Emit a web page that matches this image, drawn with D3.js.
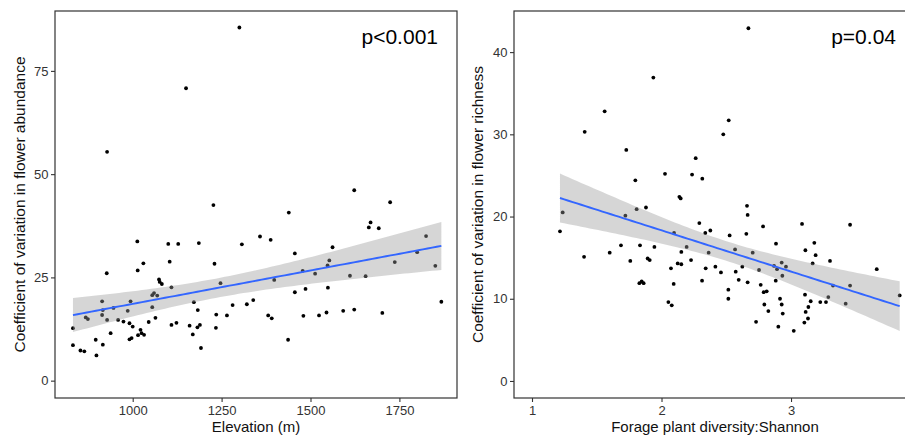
<!DOCTYPE html>
<html>
<head>
<meta charset="utf-8">
<script src="https://cdn.jsdelivr.net/npm/d3@7"></script>
<style>
  html, body { margin: 0; padding: 0; background: #fff; }
  svg { display: block; font-family: "Liberation Sans", Arial, sans-serif; }
</style>
</head>
<body>
<svg id="chart" width="905" height="437"></svg>
<script>
// ---------- Data ----------
const elevation = [832, 832, 853, 864, 868, 874, 898, 896, 914, 914,
  916, 916, 927, 928, 938, 946, 959, 974, 986, 991,
  991, 994, 997, 1000, 1013, 1014, 1015, 1022, 1025, 1030,
  1032, 1045, 1055, 1055, 1060, 1064, 1069, 1074, 1076, 1082,
  1100, 1104, 1109, 1109, 1123, 1128, 1160, 1169, 1172, 1183,
  1182, 1186, 1189, 1192, 1227, 1230, 1235, 1234, 1247, 1265,
  1281, 1307, 1321, 1339, 1358, 1381, 1388, 1391, 1398, 1437,
  1439, 1456, 1456, 1478, 1480, 1486, 1513, 1524, 1545, 1549,
  1548, 1553, 1562, 1592, 1611, 1623, 1655, 1664, 1669, 1692,
  1702, 1724, 1737, 1800, 1825, 1851, 1868, 928, 1150, 1300,
  1623];
const cvAbundance = [12.7, 8.6, 7.3, 7.1, 15.3, 14.9, 6.1, 9.9, 19.2, 15.9,
  8.7, 17.1, 26.0, 14.7, 11.5, 17.6, 14.7, 14.3, 16.9, 13.9,
  10.0, 19.2, 10.3, 13.1, 33.7, 26.7, 11.0, 12.3, 11.5, 28.4,
  11.1, 14.2, 17.8, 20.7, 21.2, 15.2, 20.6, 24.5, 23.9, 23.4,
  33.1, 28.8, 22.6, 13.5, 14.0, 33.1, 13.3, 11.2, 19.0, 17.1,
  12.9, 33.3, 13.5, 7.9, 42.5, 28.3, 16.0, 12.8, 23.6, 15.8,
  18.3, 33.0, 18.5, 19.5, 34.9, 15.8, 34.1, 15.1, 24.4, 9.9,
  40.7, 30.8, 21.4, 26.6, 15.7, 22.2, 25.9, 15.8, 16.5, 22.5,
  27.9, 29.1, 32.3, 16.9, 25.4, 17.2, 25.3, 37.1, 38.3, 36.9,
  16.4, 43.2, 28.7, 31.1, 35.0, 27.8, 19.1, 55.4, 70.8, 85.5,
  46.1];

const shannon = [2.671, 1.937, 1.561, 1.407, 2.519, 2.477, 1.728, 2.264, 2.027, 2.236,
  2.315, 1.798, 2.138, 2.148, 2.660, 1.880, 1.808, 1.237, 1.721, 2.665,
  1.216, 1.402, 1.600, 1.687, 1.759, 1.834, 1.829, 1.847, 1.862, 1.893,
  1.909, 1.945, 2.053, 2.079, 2.073, 2.097, 2.094, 2.125, 2.153, 2.153,
  2.194, 2.228, 2.292, 2.313, 2.338, 2.377, 2.341, 2.364, 2.416, 2.459,
  2.516, 2.516, 2.526, 2.568, 2.573, 2.596, 2.624, 2.655, 2.665, 2.704,
  2.730, 2.753, 2.766, 2.784, 2.794, 2.789, 2.812, 2.825, 2.884, 2.882,
  2.892, 2.869, 2.902, 2.915, 2.928, 2.933, 2.928, 2.936, 2.961, 3.021,
  3.085, 3.103, 3.108, 3.111, 3.113, 3.131, 3.134, 3.152, 3.167, 3.180,
  3.190, 3.226, 3.270, 3.288, 3.301, 3.324, 3.422, 3.456, 3.456, 3.662,
  3.839];
const cvRichness = [42.9, 36.9, 32.8, 30.3, 31.7, 30.0, 28.1, 27.1, 25.2, 25.1,
  24.6, 24.4, 22.4, 22.2, 21.3, 21.1, 20.9, 20.5, 20.1, 20.2,
  18.2, 15.1, 15.6, 16.5, 14.6, 16.5, 11.9, 12.1, 11.9, 14.9,
  14.7, 16.3, 9.6, 9.2, 13.7, 18.0, 11.8, 14.3, 14.2, 15.7,
  16.3, 14.7, 19.2, 12.2, 18.0, 18.3, 13.7, 15.6, 13.9, 13.2,
  11.1, 10.0, 17.7, 16.0, 13.3, 12.3, 13.9, 17.9, 12.0, 15.6,
  7.2, 13.5, 11.7, 18.8, 9.3, 10.8, 10.9, 8.5, 16.7, 12.2,
  13.6, 14.0, 6.6, 10.0, 14.4, 12.8, 9.3, 8.2, 13.9, 6.1,
  19.1, 7.1, 10.5, 15.9, 8.4, 7.6, 9.0, 9.7, 14.3, 16.8,
  15.3, 9.6, 9.6, 10.2, 14.6, 11.6, 9.4, 19.0, 11.6, 13.6,
  10.4];

const xTicksLeft = [1000, 1250, 1500, 1750];
const yTicksLeft = [0, 25, 50, 75];
const xTicksRight = [1, 2, 3];
const yTicksRight = [0, 10, 20, 30, 40];

const panels = [
  { x: elevation, y: cvAbundance, xDomain: [781.5, 1912], yDomain: [-4.2, 89.5],
    xTicks: xTicksLeft, yTicks: yTicksLeft,
    xTitle: "Elevation (m)", yTitle: "Coefficient of variation in flower abundance",
    pText: "p<0.001", left: 55, right: 457, yTitleX: 25, pRight: 438 },
  { x: shannon, y: cvRichness, xDomain: [0.861, 3.965], yDomain: [-2.07, 45],
    xTicks: xTicksRight, yTicks: yTicksRight,
    xTitle: "Forage plant diversity:Shannon", yTitle: "Coefficient of variation in flower richness",
    pText: "p=0.04", left: 514, right: 916, yTitleX: 483, pRight: 896 }
];

const plotTop = 11, plotBottom = 398;
const svg = d3.select("#chart");

function linfit(xs, ys) {
  const n = xs.length;
  const mx = d3.mean(xs), my = d3.mean(ys);
  let sxx = 0, sxy = 0;
  for (let i = 0; i < n; i++) { sxx += (xs[i]-mx)**2; sxy += (xs[i]-mx)*(ys[i]-my); }
  const b = sxy / sxx, a = my - b * mx;
  let sse = 0;
  for (let i = 0; i < n; i++) { const r = ys[i] - (a + b*xs[i]); sse += r*r; }
  const s = Math.sqrt(sse / (n - 2));
  return { a, b, s, n, mx, sxx };
}

panels.forEach(p => {
  const xs = d3.scaleLinear().domain(p.xDomain).range([p.left, p.right]);
  const ys = d3.scaleLinear().domain(p.yDomain).range([plotBottom, plotTop]);
  const g = svg.append("g");

  // points
  const pts = p.x.map((v, i) => [v, p.y[i]]);
  g.append("g").selectAll("circle").data(pts).join("circle")
    .attr("cx", d => xs(d[0])).attr("cy", d => ys(d[1]))
    .attr("r", 1.9).attr("fill", "#000");

  // regression with 95% CI
  const f = linfit(p.x, p.y);
  const tq = 1.984;
  const xmin = d3.min(p.x), xmax = d3.max(p.x);
  const grid = d3.range(0, 81).map(i => xmin + (xmax - xmin) * i / 80);
  const band = grid.map(x => {
    const yhat = f.a + f.b * x;
    const se = f.s * Math.sqrt(1 / f.n + (x - f.mx) ** 2 / f.sxx);
    return { x, yhat, lo: yhat - tq * se, hi: yhat + tq * se };
  });
  g.append("path").datum(band)
    .attr("d", d3.area().x(d => xs(d.x)).y0(d => ys(d.lo)).y1(d => ys(d.hi)))
    .attr("fill", "#999999").attr("fill-opacity", 0.4);
  g.append("path").datum(band)
    .attr("d", d3.line().x(d => xs(d.x)).y(d => ys(d.yhat)))
    .attr("fill", "none").attr("stroke", "#3366FF").attr("stroke-width", 1.9);

  // panel border
  g.append("rect").attr("x", p.left).attr("y", plotTop)
    .attr("width", p.right - p.left).attr("height", plotBottom - plotTop)
    .attr("fill", "none").attr("stroke", "#333").attr("stroke-width", 1.2);

  // axes
  const ax = g.append("g").attr("transform", `translate(0,${plotBottom})`)
    .call(d3.axisBottom(xs).tickValues(p.xTicks).tickSize(4).tickPadding(3.5).tickFormat(d3.format("d")));
  const ay = g.append("g").attr("transform", `translate(${p.left},0)`)
    .call(d3.axisLeft(ys).tickValues(p.yTicks).tickSize(4).tickPadding(2.5).tickFormat(d3.format("d")));
  [ax, ay].forEach(a => {
    a.select(".domain").remove();
    a.selectAll(".tick line").attr("stroke", "#333").attr("stroke-width", 1.1);
    a.selectAll(".tick text").attr("fill", "#333").style("font-size", "13px")
      .style("font-family", "'Liberation Sans', Arial, sans-serif");
  });

  // titles
  g.append("text").attr("x", (p.left + p.right) / 2).attr("y", 432)
    .attr("text-anchor", "middle").attr("fill", "#111").style("font-size", "15px")
    .text(p.xTitle);
  g.append("text").attr("transform", `translate(${p.yTitleX},${(plotTop + plotBottom) / 2}) rotate(-90)`)
    .attr("text-anchor", "middle").attr("fill", "#111").style("font-size", "15.5px")
    .text(p.yTitle);

  // p-value annotation
  g.append("text").attr("x", p.pRight).attr("y", 43.5).attr("text-anchor", "end")
    .attr("fill", "#000").style("font-size", "21px").text(p.pText);
});
</script>
</body>
</html>
